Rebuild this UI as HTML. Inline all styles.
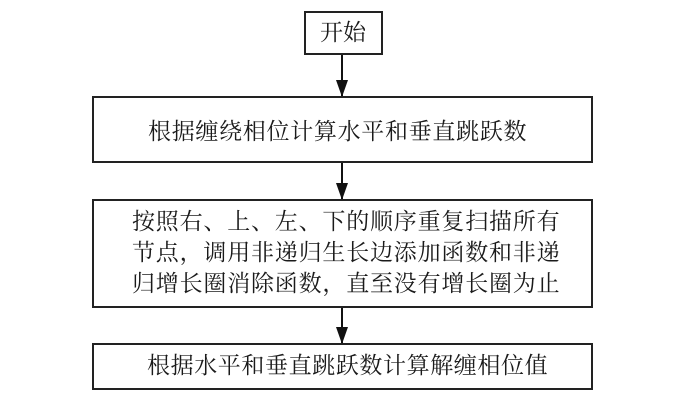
<!DOCTYPE html>
<html><head><meta charset="utf-8"><style>
html,body{margin:0;padding:0;background:#fff;width:700px;height:403px;overflow:hidden}
.b{position:absolute;border:2px solid #222;box-sizing:border-box;background:#fff}
.t{position:absolute;font-family:"Liberation Serif","Noto Serif CJK SC",serif;font-size:23px;color:#1a1a1a;white-space:nowrap;line-height:24px}
</style></head><body>
<svg width="700" height="403" style="position:absolute;left:0;top:0">
<line x1="342" y1="54" x2="342" y2="96" stroke="#111" stroke-width="2"/>
<path d="M336,80 L348,80 L342,97 Z" fill="#111"/>
<line x1="342" y1="162" x2="342" y2="199" stroke="#111" stroke-width="2"/>
<path d="M336,183 L348,183 L342,200 Z" fill="#111"/>
<line x1="342" y1="307" x2="342" y2="343" stroke="#111" stroke-width="2"/>
<path d="M336,327 L348,327 L342,344 Z" fill="#111"/>
</svg>
<div class="b" style="left:304px;top:11px;width:79px;height:44px"></div>
<div class="t" style="left:320px;top:21px">开始</div>
<div class="b" style="left:92px;top:96px;width:501px;height:67px"></div>
<div class="t" style="left:148px;top:120px;letter-spacing:0.7px">根据缠绕相位计算水平和垂直跳跃数</div>
<div class="b" style="left:92px;top:199px;width:501px;height:109px"></div>
<div class="t" style="left:132px;top:210px;letter-spacing:0.8px">按照右、上、左、下的顺序重复扫描所有</div>
<div class="t" style="left:132px;top:241px;letter-spacing:0.8px">节点，调用非递归生长边添加函数和非递</div>
<div class="t" style="left:132px;top:272px;letter-spacing:0.8px">归增长圈消除函数，直至没有增长圈为止</div>
<div class="b" style="left:92px;top:343px;width:501px;height:47px"></div>
<div class="t" style="left:147px;top:354px;letter-spacing:0.6px">根据水平和垂直跳跃数计算解缠相位值</div>
</body></html>
